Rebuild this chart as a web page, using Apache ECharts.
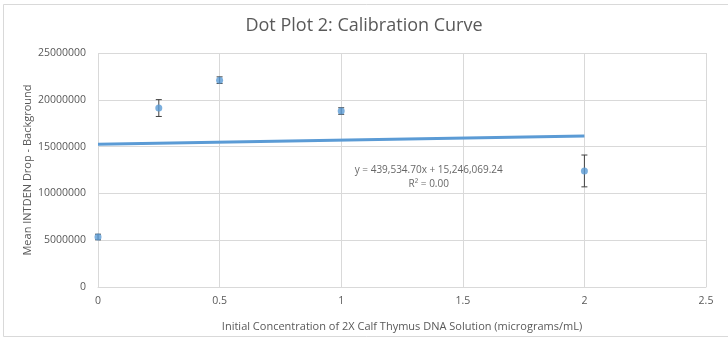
<!DOCTYPE html>
<html>
<head>
<meta charset="utf-8">
<script src="https://cdn.jsdelivr.net/npm/echarts@6/dist/echarts.min.js"></script>
<style>
  html, body { margin: 0; padding: 0; background: #fff; }
  #chart { width: 728px; height: 352px; }
</style>
</head>
<body>
<div id="chart"></div>
<script>
// concentration (micrograms/mL)
const concentrations = [0, 0.25, 0.5, 1, 2];
// mean INTDEN drop - background
const meanValues = [5340000, 19120000, 22100000, 18800000, 12400000];
// error bar half-widths
const errorValues = [300000, 900000, 350000, 350000, 1700000];
// linear trendline, as printed on the chart
const trendSlope = 439534.70;
const trendIntercept = 15246069.24;
const trendRange = [0, 2];
const trendText = ['y = 439,534.70x + 15,246,069.24', 'R² = 0.00'];
const labelAt = [1.36, 11750000];

const textColor = '#595959';
const blue = '#5b9bd5';
const font = '"Open Sans", "Noto Sans", sans-serif';

const points = concentrations.map((x, i) => [x, meanValues[i]]);
const errors = concentrations.map((x, i) => [x, meanValues[i] - errorValues[i], meanValues[i] + errorValues[i]]);
const trend = trendRange.map(x => [x, trendSlope * x + trendIntercept]);

let myChart = echarts.init(document.getElementById('chart'));
let option = {
  animation: false,
  backgroundColor: '#fff',
  title: {
    text: 'Dot Plot 2: Calibration Curve',
    left: 'center',
    top: 12,
    textStyle: { color: textColor, fontSize: 18, fontWeight: 'normal', fontFamily: font }
  },
  graphic: [{
    type: 'rect',
    shape: { x: 3.5, y: 4.5, width: 740, height: 332 },
    style: { fill: 'none', stroke: '#d9d9d9', lineWidth: 1 },
    z: -1
  }],
  grid: { left: 98, right: 22, top: 53, bottom: 65 },
  xAxis: {
    type: 'value',
    min: 0,
    max: 2.5,
    interval: 0.5,
    name: 'Initial Concentration of 2X Calf Thymus DNA Solution (micrograms/mL)',
    nameLocation: 'middle',
    nameGap: 34,
    nameMoveOverlap: false,
    nameTextStyle: { color: textColor, fontSize: 11, fontFamily: font },
    axisLine: { lineStyle: { color: '#d9d9d9' } },
    axisTick: { show: false },
    axisLabel: { color: textColor, fontSize: 10.5, fontFamily: font, margin: 9 },
    splitLine: { show: true, lineStyle: { color: '#d9d9d9' } }
  },
  yAxis: {
    type: 'value',
    min: 0,
    max: 25000000,
    interval: 5000000,
    name: 'Mean INTDEN Drop - Background',
    nameLocation: 'middle',
    nameGap: 65,
    nameMoveOverlap: false,
    nameTextStyle: { color: textColor, fontSize: 11, fontFamily: font },
    axisLine: { show: false },
    axisTick: { show: false },
    axisLabel: {
      color: textColor, fontSize: 10.5, fontFamily: font, margin: 12,
      formatter: v => String(v)
    },
    splitLine: { lineStyle: { color: '#d9d9d9' } }
  },
  series: [
    {
      type: 'line',
      data: trend,
      symbol: 'none',
      lineStyle: { color: blue, width: 3 },
      z: 2
    },
    {
      type: 'custom',
      data: errors,
      renderItem: function (params, api) {
        const top = api.coord([api.value(0), api.value(2)]);
        const bottom = api.coord([api.value(0), api.value(1)]);
        const cap = 3;
        const style = { stroke: '#404040', lineWidth: 1 };
        return {
          type: 'group',
          children: [
            { type: 'line', shape: { x1: top[0], y1: top[1], x2: bottom[0], y2: bottom[1] }, style: style },
            { type: 'line', shape: { x1: top[0] - cap, y1: top[1], x2: top[0] + cap, y2: top[1] }, style: style },
            { type: 'line', shape: { x1: bottom[0] - cap, y1: bottom[1], x2: bottom[0] + cap, y2: bottom[1] }, style: style }
          ]
        };
      },
      z: 3
    },
    {
      type: 'scatter',
      data: points,
      symbol: 'circle',
      symbolSize: 7,
      itemStyle: { color: blue },
      z: 4
    },
    {
      type: 'scatter',
      data: [labelAt],
      symbolSize: 0,
      silent: true,
      label: {
        show: true,
        position: 'inside',
        formatter: trendText.join('\n'),
        color: '#404040',
        fontSize: 10,
        lineHeight: 14,
        fontFamily: font,
        align: 'center'
      },
      z: 5
    }
  ]
};
myChart.setOption(option);
</script>
</body>
</html>
